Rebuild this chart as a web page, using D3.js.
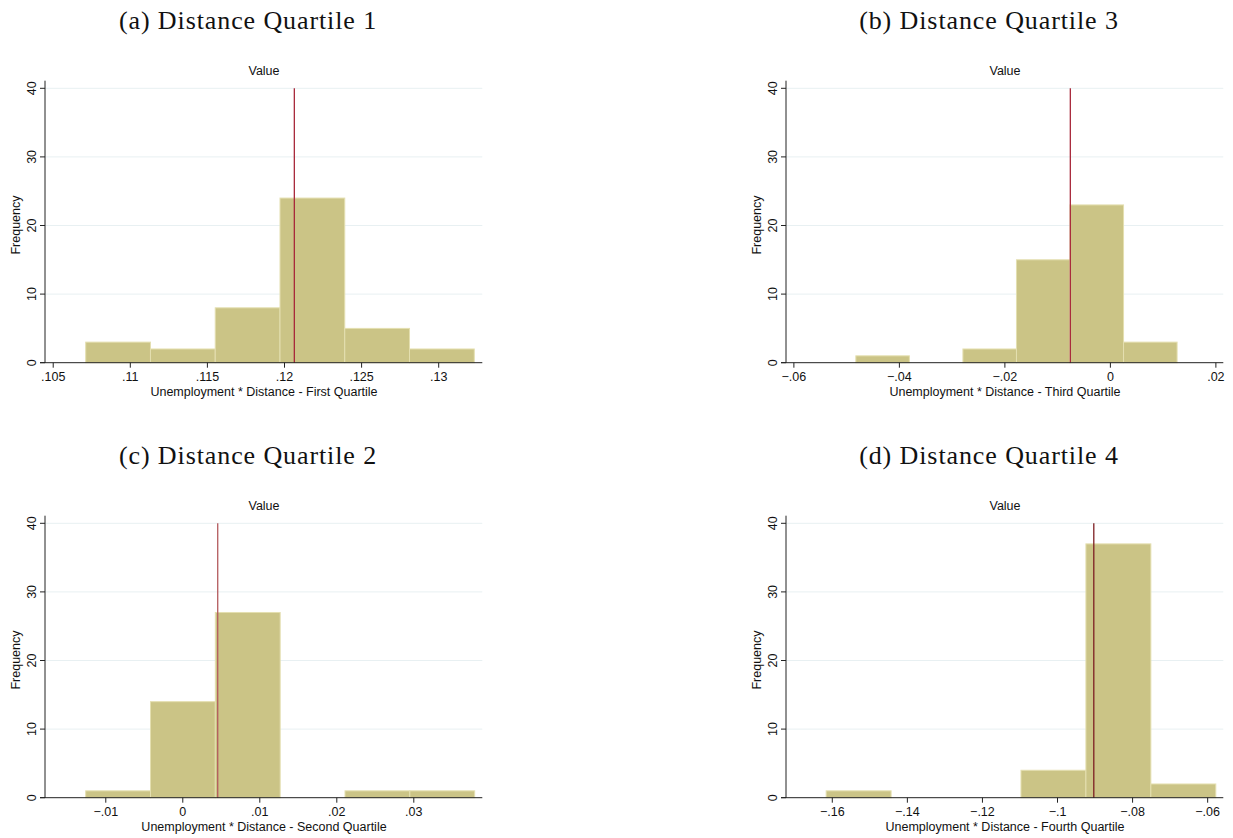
<!DOCTYPE html>
<html>
<head>
<meta charset="utf-8">
<title>Distance Quartile histograms</title>
<script src="https://cdn.jsdelivr.net/npm/d3@7"></script>
<style>
  body { margin: 0; background: #fff; }
  .title { font-family: "Liberation Serif", "DejaVu Serif", serif; font-size: 26px; letter-spacing: 0.9px; fill: #111; }
  .lab { font-family: "Liberation Sans", Arial, sans-serif; font-size: 12.5px; fill: #111; }
</style>
</head>
<body>
<svg id="chart" width="1233" height="838"></svg>
<script>
// panel titles and axis labels
var titles = ["(a) Distance Quartile 1", "(b) Distance Quartile 3", "(c) Distance Quartile 2", "(d) Distance Quartile 4"];
var xLabels = ["Unemployment * Distance - First Quartile", "Unemployment * Distance - Third Quartile",
               "Unemployment * Distance - Second Quartile", "Unemployment * Distance - Fourth Quartile"];

// x axis domains
var xDomains = [[0.1045, 0.13286], [-0.0614, 0.0215], [-0.01783, 0.03896], [-0.1722, -0.0557]];
var xTicks = [[0.105, 0.11, 0.115, 0.12, 0.125, 0.13], [-0.06, -0.04, -0.02, 0, 0.02],
              [-0.01, 0, 0.01, 0.02, 0.03], [-0.16, -0.14, -0.12, -0.1, -0.08, -0.06]];
var yTicks = [0, 10, 20, 30, 40];

// histogram bins: first edge, bin width, counts
var binStart = [0.10714, -0.04816, -0.01255, -0.1615];
var binWidth = [0.0042, 0.01015, 0.00842, 0.0173];
var counts = [[3, 2, 8, 24, 5, 2], [1, 0, 2, 15, 23, 3], [1, 14, 27, 0, 1, 1], [1, 0, 0, 4, 37, 2]];

// vertical reference line (true value)
var refValue = [0.12067, -0.0075, 0.0046, -0.0902];
var refColor = ["#a8283a", "#a8283a", "#b35a5e", "#7d1e22"];

var svg = d3.select("#chart");
var offsets = [[0, 0], [741, 0], [0, 435], [741, 435]];

function fmt(v) {
  if (v == 0) return "0";
  var s = d3.format("")(+v.toPrecision(6));
  return s.replace("0.", ".");
}

titles.forEach(function(t, i) {
  var g = svg.append("g").attr("transform", "translate(" + offsets[i][0] + "," + offsets[i][1] + ")");
  var x = d3.scaleLinear().domain(xDomains[i]).range([45, 482.3]);
  var y = d3.scaleLinear().domain([0, 40]).range([362.7, 88.3]);

  g.append("text").attr("class", "title").attr("x", 248).attr("y", 29).attr("text-anchor", "middle").text(t);
  g.append("text").attr("class", "lab").attr("x", 264).attr("y", 75).attr("text-anchor", "middle").text("Value");

  // grid
  g.selectAll(".grid").data(yTicks.slice(1)).enter().append("line")
    .attr("x1", 45).attr("x2", 482.3).attr("y1", d => y(d)).attr("y2", d => y(d))
    .attr("stroke", "#e8f0f2").attr("stroke-width", 1);

  // bars
  var bins = counts[i].map(function(c, k) {
    return { x0: binStart[i] + k * binWidth[i], x1: binStart[i] + (k + 1) * binWidth[i], n: c };
  }).filter(d => d.n > 0);
  g.selectAll(".bar").data(bins).enter().append("rect")
    .attr("x", d => x(d.x0)).attr("width", d => x(d.x1) - x(d.x0))
    .attr("y", d => y(d.n)).attr("height", d => y(0) - y(d.n))
    .attr("fill", "#cbc486").attr("stroke", "#e4dfb0").attr("stroke-width", 1);

  // reference line
  g.append("line").attr("x1", x(refValue[i])).attr("x2", x(refValue[i]))
    .attr("y1", y(40)).attr("y2", y(0))
    .attr("stroke", refColor[i]).attr("stroke-width", 1.3);

  // y axis
  var ya = g.append("g").attr("transform", "translate(45,0)")
    .call(d3.axisLeft(y).tickValues(yTicks).tickSize(5).tickFormat(d3.format("d")));
  ya.select(".domain").remove();
  ya.selectAll("line").attr("stroke", "#222");
  ya.selectAll("text").attr("class", "lab").attr("font-size", null).attr("font-family", null)
    .attr("transform", d => "rotate(-90," + (-9) + "," + y(d) + ")")
    .attr("x", -9).attr("dy", 0).attr("text-anchor", "middle").attr("y", d => y(d) - 0);
  ya.selectAll(".tick").attr("transform", null);
  ya.selectAll(".tick line").attr("y1", d => y(d)).attr("y2", d => y(d));
  g.append("line").attr("x1", 45).attr("x2", 45).attr("y1", 80.7).attr("y2", 363).attr("stroke", "#222");

  // x axis
  var xa = g.append("g").attr("transform", "translate(0,362.7)")
    .call(d3.axisBottom(x).tickValues(xTicks[i]).tickSize(5).tickFormat(fmt));
  xa.select(".domain").remove();
  xa.selectAll("line").attr("stroke", "#222");
  xa.selectAll("text").attr("class", "lab").attr("font-size", null).attr("font-family", null).attr("dy", "0.95em").attr("y", 6);
  g.append("line").attr("x1", 40).attr("x2", 482.3).attr("y1", 362.7).attr("y2", 362.7).attr("stroke", "#222");

  g.append("text").attr("class", "lab").attr("x", 264).attr("y", 396).attr("text-anchor", "middle").text(xLabels[i]);
  g.append("text").attr("class", "lab").attr("transform", "translate(20,225) rotate(-90)")
    .attr("text-anchor", "middle").text("Frequency");
});
</script>
</body>
</html>
